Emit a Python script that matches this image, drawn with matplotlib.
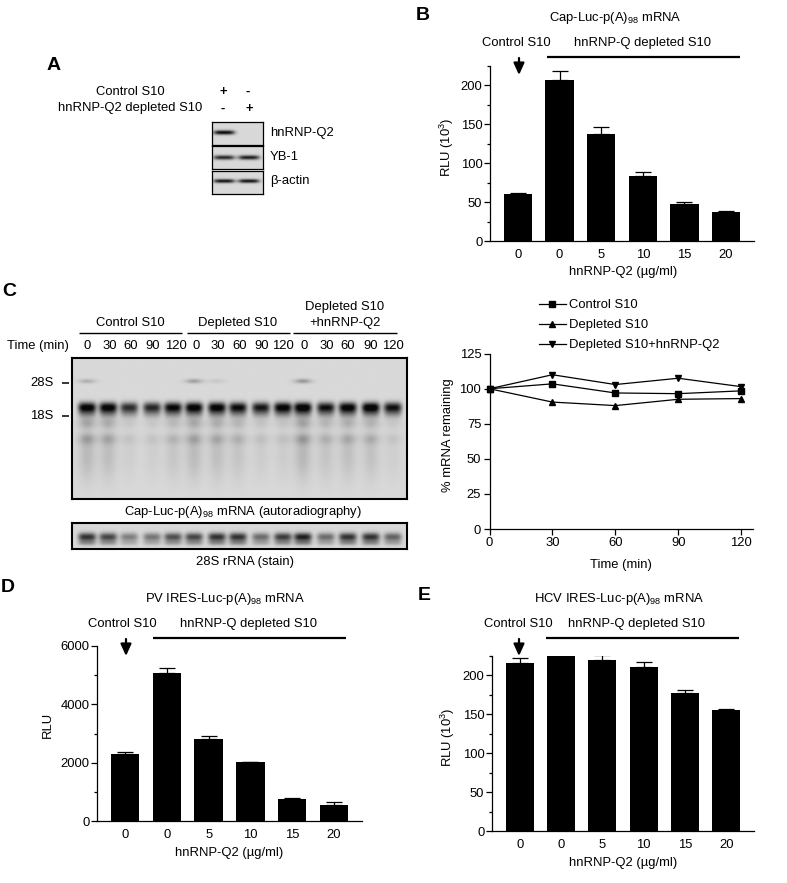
import numpy as np
import matplotlib
matplotlib.use("Agg")
import matplotlib.pyplot as plt
from matplotlib.ticker import MultipleLocator

plt.rcParams['font.family'] = ['Liberation Sans', 'DejaVu Sans']
plt.rcParams['mathtext.fontset'] = 'custom'
plt.rcParams['mathtext.rm'] = 'Liberation Sans'
plt.rcParams['mathtext.default'] = 'rm'
plt.rcParams['font.size'] = 9.4

W, H = 787, 883
FS = 9.4

conc_labels = ["0", "0", "5", "10", "15", "20"]

cap_values = [60.5, 206.4, 137, 83, 47.6, 37.5]
cap_tops = [62, 218, 146, 89, 50, 38.5]

pv_values = [2300, 5075, 2805, 2015, 745, 560]
pv_tops = [2360, 5230, 2900, 2040, 800, 640]

hcv_values = [216, 225, 220, 211, 178, 155.5]
hcv_tops = [222, 225, 226.5, 216.7, 181, 156.7]

times = [0, 30, 60, 90, 120]
control_remaining = [100, 103.5, 97, 96.5, 98.5]
depleted_remaining = [100, 90.5, 88, 92.5, 93]
rescued_remaining = [100, 110, 103, 107.5, 101.5]

# gel bands, one value per lane (darkness 0-1)
lane_x = [87, 108, 129, 152, 173, 194, 217, 238, 261, 283, 303, 326, 348, 371, 393]
time_labels = ["0", "30", "60", "90", "120"] * 3
time_label_x = [87, 110, 131, 153, 176, 196, 218, 240, 262, 283, 304, 327, 348, 371, 393]
main_band = [.95, .95, .72, .75, .9, .95, .95, .88, .82, .95, 1, .85, .95, 1, .85]
band_28s = [.2, 0, 0, 0, 0, .28, .08, 0, 0, 0, .32, 0, 0, 0, 0]
smear = [.3, .26, .1, .1, .18, .28, .25, .2, .12, .12, .32, .2, .24, .22, .1]
stain_band = [.85, .75, .45, .5, .7, .75, .85, .85, .55, .8, .95, .55, .85, .85, .6]

# western blot strips in panel A
blot_lane_x = [224, 249]
blot_q2 = [1, 0]
blot_yb1 = [.85, .9]
blot_actin = [.95, .95]

fig = plt.figure(figsize=(W / 100, H / 100), dpi=100)

# overlay in image pixels, used for all the free text
over = fig.add_axes([0, 0, 1, 1], zorder=5)
over.set_xlim(0, W)
over.set_ylim(H, 0)
over.axis('off')


def addAxes(left, top, right, bottom):
    return fig.add_axes([left / W, 1 - bottom / H, (right - left) / W, (bottom - top) / H])


def label(x, y, s, ha='center', **kw):
    kw.setdefault('fontsize', FS)
    over.text(x, y, s, ha=ha, va='center', **kw)


def styleAxis(ax):
    ax.spines['top'].set_visible(False)
    ax.spines['right'].set_visible(False)
    ax.spines['left'].set_linewidth(0.9)
    ax.spines['bottom'].set_linewidth(0.9)
    ax.patch.set_alpha(0)


def barPanel(box, values, tops, ymax, major, minor, ylabel, ylabel_xy, xlabel_xy, pad):
    ax = addAxes(*box)
    x = np.arange(len(values))
    errs = [t - v for t, v in zip(tops, values)]
    ax.bar(x, values, width=0.68, color='black')
    ax.errorbar(x, values, yerr=[[0] * len(errs), errs], fmt='none', ecolor='black',
                elinewidth=0.9, capsize=6, capthick=0.9)
    ax.set_xlim(-0.673, 5.673)
    ax.set_ylim(0, ymax)
    ax.set_xticks(x)
    ax.set_xticklabels(conc_labels)
    ax.tick_params(axis='x', length=0, pad=pad, labelsize=FS)
    ax.yaxis.set_major_locator(MultipleLocator(major))
    ax.yaxis.set_minor_locator(MultipleLocator(minor))
    ax.tick_params(axis='y', which='major', length=4, width=0.9, pad=1.5, labelsize=FS)
    ax.tick_params(axis='y', which='minor', length=2.5, width=0.9)
    ax.set_xlabel("hnRNP-Q2 (\u00b5g/ml)", va='center')
    ax.xaxis.set_label_coords(*xlabel_xy, transform=over.transData)
    ax.set_ylabel(ylabel, va='center')
    ax.yaxis.set_label_coords(*ylabel_xy, transform=over.transData)
    styleAxis(ax)
    return ax


def header(title, title_x, title_y, control_x, depleted_x, text_y, line_x0, line_x1, line_y, arrow_x):
    label(title_x, title_y, title)
    label(control_x, text_y, "Control S10")
    label(depleted_x, text_y, "hnRNP-Q depleted S10")
    over.plot([line_x0, line_x1], [line_y, line_y], color='black', lw=1.6, solid_capstyle='butt')
    over.annotate("", xy=(arrow_x, line_y + 18), xytext=(arrow_x, line_y + 1),
                  arrowprops=dict(arrowstyle='-|>,head_width=0.34,head_length=0.75',
                                  color='black', lw=1.6, shrinkA=0, shrinkB=0))


def gaussian(u, c, s):
    return np.exp(-0.5 * ((u - c) / s) ** 2)


def laneShape(u, c, s):
    # flat topped so that neighbouring lanes stay apart
    return np.exp(-0.5 * ((u - c) / s) ** 4)


def gelPanel(box, background, draw, lw):
    left, top, right, bottom = box
    ax = addAxes(left, top, right, bottom)
    xs = np.arange(left, right + 0.5, 0.5)
    ys = np.arange(top, bottom + 0.5, 0.5)
    xx, yy = np.meshgrid(xs, ys)
    dark = draw(xx, yy)
    img = background - (background - 0.03) * np.clip(dark, 0, 1)
    ax.imshow(img, cmap='gray', vmin=0, vmax=1, aspect='auto',
              extent=[left, right, bottom, top], interpolation='bilinear')
    ax.set_xticks([])
    ax.set_yticks([])
    for s in ax.spines.values():
        s.set_linewidth(lw)
    return ax


def rnaGel(xx, yy):
    dark = np.zeros_like(xx)
    for cx, m, b28, sm in zip(lane_x, main_band, band_28s, smear):
        lane = laneShape(xx, cx, 7.5)
        dark += lane * m * 1.05 * gaussian(yy, 407, 3.4)
        dark += lane * 0.4 * m * gaussian(yy, 413, 3.5)
        dark += gaussian(xx, cx, 6) * b28 * gaussian(yy, 381, 1.6)
        dark += gaussian(xx, cx, 6) * sm * (0.75 * gaussian(yy, 423, 4) + 0.7 * gaussian(yy, 439, 4)
                                            + 0.5 * gaussian(yy, 455, 18))
    return dark


def stainGel(xx, yy):
    dark = np.zeros_like(xx)
    for cx, m in zip(lane_x, stain_band):
        lane = laneShape(xx, cx, 7.5)
        dark += lane * m * (0.95 * gaussian(yy, 537, 3) + 0.35 * gaussian(yy, 543, 2))
    return dark


def blotStrip(box, values, band_y, sigma):
    def draw(xx, yy):
        dark = np.zeros_like(xx)
        for cx, v in zip(blot_lane_x, values):
            dark += laneShape(xx, cx, 9) * v * gaussian(yy, band_y, sigma)
        return dark
    gelPanel(box, 0.85, draw, 0.9)


# panel letters
for s, x, y in [("A", 54, 65), ("B", 423, 15), ("C", 9, 291), ("D", 8, 587), ("E", 424, 596)]:
    label(x, y, s, fontsize=14, fontweight='bold')

# A: western blot
label(130, 92, "Control S10")
label(130, 108, "hnRNP-Q2 depleted S10")
for x, y, s in [(223, 92, "+"), (248, 92, "-"), (223, 109, "-"), (249, 109, "+")]:
    label(x, y, s, fontweight='bold')
blotStrip((212, 122, 263, 145), blot_q2, 133, 1.5)
blotStrip((212, 146, 263, 169), blot_yb1, 157.5, 1.6)
blotStrip((212, 171, 263, 194), blot_actin, 181, 1.4)
label(270, 133, "hnRNP-Q2", ha='left')
label(270, 157, "YB-1", ha='left')
label(270, 181, "\u03b2-actin", ha='left')

# B
barPanel((490, 66, 754, 241), cap_values, cap_tops, 225, 50, 25, "RLU (10$^{3}$)", (447, 147), (623, 272), 6)
header("Cap-Luc-p(A)$_{98}$ mRNA", 615, 18, 516, 643, 43, 547, 740, 57, 519)

# C: gels
gelPanel((72, 358, 407, 499), 0.85, rnaGel, 1.5)
gelPanel((72, 523, 407, 549), 0.85, stainGel, 1.5)
label(130, 323, "Control S10")
label(238, 323, "Depleted S10")
label(345, 307, "Depleted S10")
label(345, 323, "+hnRNP-Q2")
for x0, x1 in [(79, 182), (187, 290), (293, 397)]:
    over.plot([x0, x1], [333, 333], color='black', lw=1.0, solid_capstyle='butt')
label(38, 346, "Time (min)")
for x, s in zip(time_label_x, time_labels):
    label(x, 346, s)
label(42, 383, "28S")
label(42, 416, "18S")
for y in [383, 416]:
    over.plot([62, 69], [y, y], color='black', lw=1.1, solid_capstyle='butt')
label(243, 512, "Cap-Luc-p(A)$_{98}$ mRNA (autoradiography)")
label(245, 562, "28S rRNA (stain)")

# C: mRNA stability
ax = addAxes(489.5, 353.7, 752.7, 529)
ax.plot(times, control_remaining, color='black', lw=0.9, marker='s', ms=4.5, label="Control S10", clip_on=False)
ax.plot(times, depleted_remaining, color='black', lw=0.9, marker='^', ms=4, label="Depleted S10", clip_on=False)
ax.plot(times, rescued_remaining, color='black', lw=0.9, marker='v', ms=4, label="Depleted S10+hnRNP-Q2", clip_on=False)
ax.set_xlim(0, 125.5)
ax.set_ylim(0, 125)
ax.set_xticks(times)
ax.set_yticks([0, 25, 50, 75, 100, 125])
ax.tick_params(axis='both', length=4, width=0.9, pad=2, labelsize=FS)
ax.set_xlabel("Time (min)", va='center')
ax.xaxis.set_label_coords(621, 565, transform=over.transData)
ax.set_ylabel("% mRNA remaining", va='center')
ax.yaxis.set_label_coords(448, 435, transform=over.transData)
styleAxis(ax)
h, l = ax.get_legend_handles_labels()
over.legend(h, l, loc='upper left', bbox_to_anchor=(539, 299), bbox_transform=over.transData,
            frameon=False, fontsize=FS, borderpad=0, borderaxespad=0, labelspacing=0.6,
            handlelength=2.05, handletextpad=0.25)

# D
barPanel((97, 646, 362, 821), pv_values, pv_tops, 6000, 2000, 1000, "RLU", (48, 725), (229, 853), 6)
header("PV IRES-Luc-p(A)$_{98}$ mRNA", 225, 599, 122, 249, 624, 153, 346, 638, 126)

# E
barPanel((492, 656, 754, 831), hcv_values, hcv_tops, 225, 50, 25, "RLU (10$^{3}$)", (448, 737), (623, 863), 6)
header("HCV IRES-Luc-p(A)$_{98}$ mRNA", 619, 599, 518, 636, 624, 546, 739, 638, 519)

fig.savefig("out.png", dpi=100)
plt.close()
